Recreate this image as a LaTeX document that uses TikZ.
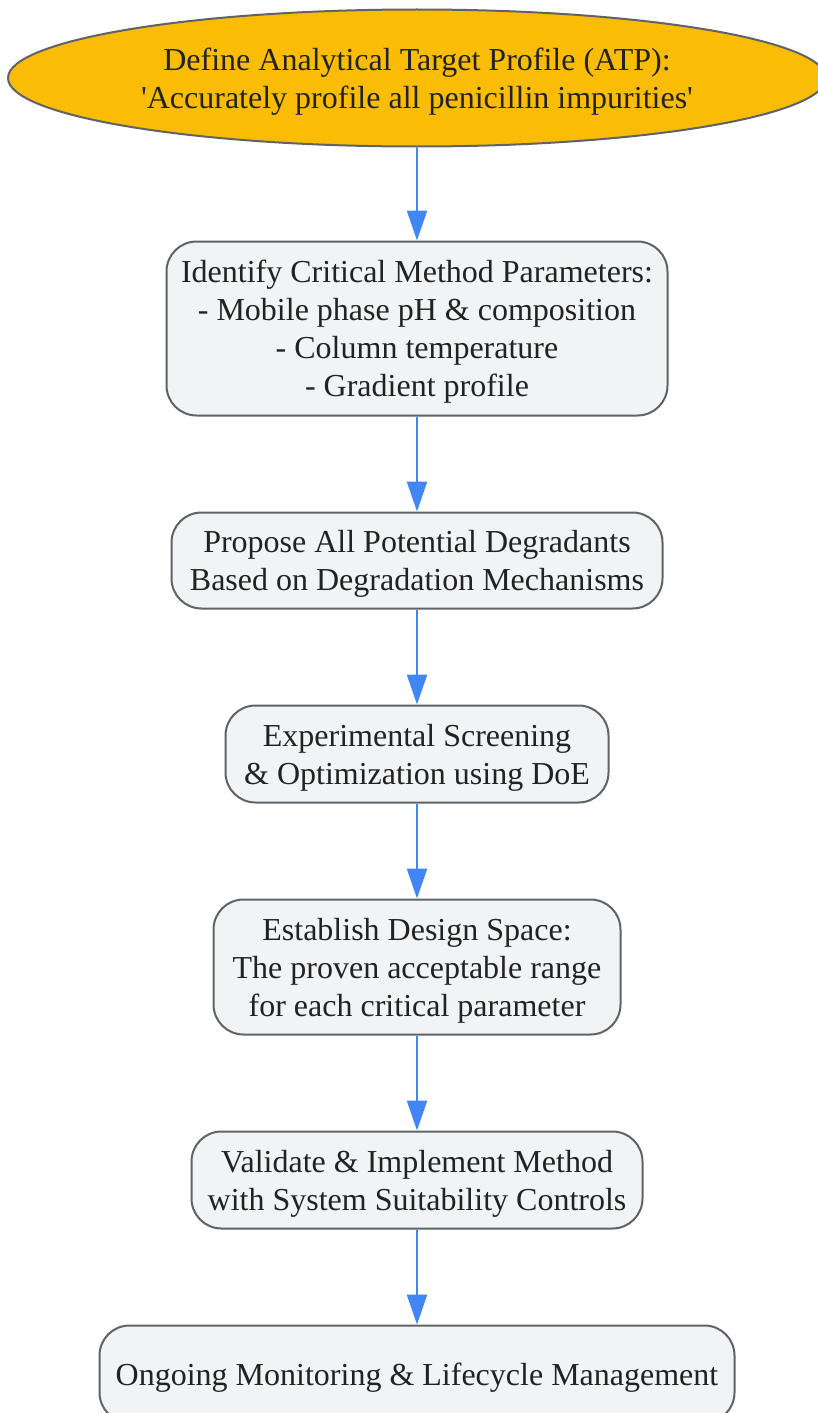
\documentclass[tikz,border=0pt]{standalone}
\usepackage{fontspec}
\setmainfont{Liberation Serif}[Ligatures=TeXOff]
\usetikzlibrary{shapes.geometric, arrows.meta, positioning}

\definecolor{atpfill}{HTML}{FBBC05}
\definecolor{stepfill}{HTML}{F1F3F4}
\definecolor{edgegray}{HTML}{5F6368}
\definecolor{flowblue}{HTML}{4285F4}
\definecolor{txtgray}{HTML}{222222}

\begin{document}
\begin{tikzpicture}
            [
            x=1pt, y=1pt,
            node distance=95pt,
            every node/.style={font={\fontsize{32}{38}\selectfont},
                text=txtgray, align=center, text depth=0pt},
            target/.style={ellipse, draw=edgegray, line width=2pt,
                fill=atpfill, inner sep=0pt},
            stepbox/.style={rectangle, rounded corners=30pt, draw=edgegray,
                line width=2pt, fill=stepfill, inner sep=0pt},
            flow/.style={draw=flowblue, line width=2.5pt,
                -{Triangle[length=30pt, width=20pt]}},
            ]
            \useasboundingbox (0,0) rectangle (817,-1413);

            % Target profile
            \node[target, minimum width=818pt, minimum height=137pt] (atp)
                at (417,-78)
                {Define Analytical Target Profile (ATP):\\
                 'Accurately profile all penicillin impurities'};

            % Steps
            \node[stepbox, minimum width=501pt, minimum height=174pt,
                below=93pt of atp] (cmp)
                {Identify Critical Method Parameters:\\
                 - Mobile phase pH \& composition\\
                 - Column temperature\\
                 - Gradient profile};
            \node[stepbox, minimum width=491pt, minimum height=96pt,
                below=of cmp] (degr)
                {Propose All Potential Degradants\\
                 Based on Degradation Mechanisms};
            \node[stepbox, minimum width=383pt, minimum height=97pt,
                below=of degr] (doe)
                {Experimental Screening\\
                 \& Optimization using DoE};
            \node[stepbox, minimum width=407pt, minimum height=135pt,
                below=of doe] (space)
                {Establish Design Space:\\
                 The proven acceptable range\\
                 for each critical parameter};
            \node[stepbox, minimum width=451pt, minimum height=97pt,
                below=of space] (valid)
                {Validate \& Implement Method\\
                 with System Suitability Controls};
            \node[stepbox, minimum width=635pt, minimum height=97pt,
                below=of valid] (monit)
                {Ongoing Monitoring \& Lifecycle Management};

            % Connectors
            \draw[flow] (atp) -- (cmp);
            \draw[flow] (cmp) -- (degr);
            \draw[flow] (degr) -- (doe);
            \draw[flow] (doe) -- (space);
            \draw[flow] (space) -- (valid);
            \draw[flow] (valid) -- (monit);
        \end{tikzpicture}
\end{document}
